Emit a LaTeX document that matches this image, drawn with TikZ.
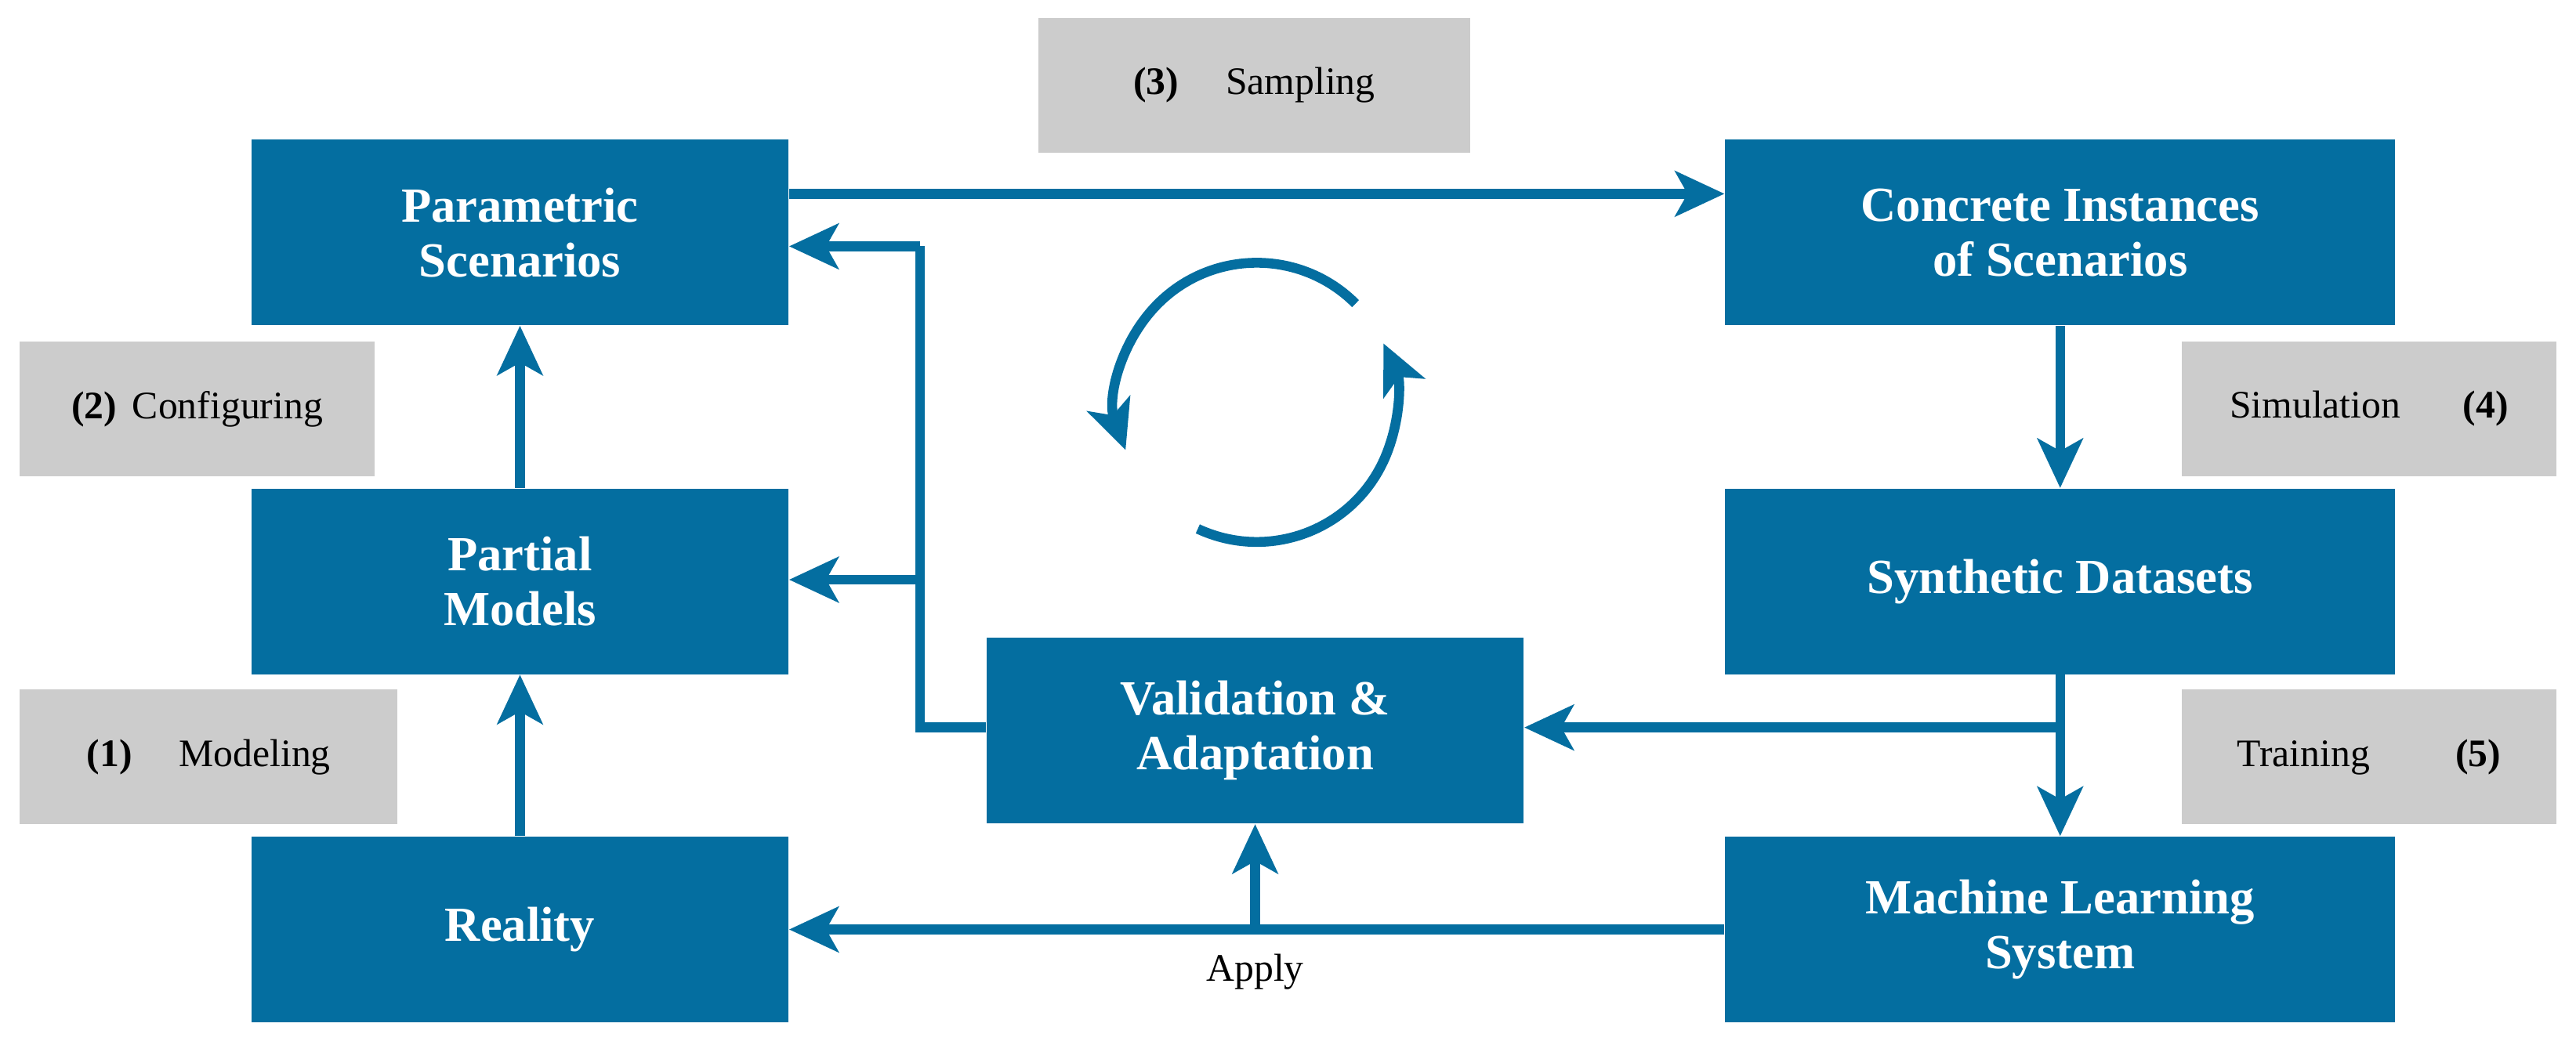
\documentclass[tikz,border=0pt]{standalone}
\usepackage{fontspec}
\setmainfont{Liberation Serif}
\usetikzlibrary{arrows.meta}
\definecolor{blu}{RGB}{4,110,160}
\definecolor{gry}{RGB}{204,204,204}
\begin{document}
\begin{tikzpicture}[x=0.02cm,y=-0.02cm,
 box/.style={fill=blu,text=white,font=\fontsize{17}{19}\selectfont\bfseries,align=center,minimum width=6.54cm,minimum height=2.26cm,inner sep=0},
 lab/.style={fill=gry,font=\fontsize{13.5}{15}\selectfont,minimum height=1.64cm,inner sep=0},
 ar/.style={draw=blu,line width=6*0.02cm,-{Stealth[length=0.6cm,width=0.55cm,inset=0.15cm]}},
 ln/.style={draw=blu,line width=6*0.02cm}]
\useasboundingbox (0,0) rectangle (1568,636);
\node[box] (ps) at (316.5,141.5) {Parametric\\Scenarios};
\node[box,minimum width=8.16cm] (ci) at (1254,141.5) {Concrete Instances\\of Scenarios};
\node[box] (pm) at (316.5,354) {Partial\\Models};
\node[box,minimum width=8.16cm] (sd) at (1254,354) {Synthetic Datasets};
\node[box] (re) at (316.5,566) {Reality};
\node[box,minimum width=8.16cm] (ml) at (1254,566) {Machine Learning\\System};
\node[box] (va) at (764,445) {Validation \&\\Adaptation};
\node[lab,minimum width=5.26cm] (l3) at (763.5,52) {\textbf{(3)}\hspace{1.2em}Sampling};
\node[lab,minimum width=4.32cm] (l2) at (120,249) {\textbf{(2)}\hspace{0.4em}Configuring};
\node[lab,minimum width=4.6cm] (l1) at (127,461) {\textbf{(1)}\hspace{1.2em}Modeling};
\node[lab,minimum width=4.56cm] (l4) at (1442,249) {Simulation\hspace{1.6em}\textbf{(4)}};
\node[lab,minimum width=4.56cm] (l5) at (1442,461) {Training\hspace{2.2em}\textbf{(5)}};
\draw[ar] (ps.east|-0,118) -- (ci.west|-0,118);
\draw[ar] (ci) -- (sd);
\draw[ar] (sd) -- (ml);
\draw[ar] (re) -- (pm);
\draw[ar] (pm) -- (ps);
\draw[ar] (ml.west) -- (re.east);
\coordinate (j) at (1254,443);
\draw[ar] (j) -- (va.east|-j);
\coordinate (c1) at (560,443);
\coordinate (c2) at (560,150);
\coordinate (c3) at (560,353);
\draw[ln] (va.west|-c1) -- (c1) -- (c2);
\draw[ar] (c2) -- (ps.east|-c2);
\draw[ar] (c3) -- (pm.east|-c3);
\coordinate (ap) at (764,566);
\draw[ar] (ap) -- (va.south);
\node[font=\fontsize{13.5}{15}\selectfont] (apl) at (764,592) {Apply};
\draw[ar] (765,245) ++(-45:85) arc (-45:-200:85);
\draw[ar] (765,245) ++(115:85) arc (115:-25:85);
\end{tikzpicture}
\end{document}
